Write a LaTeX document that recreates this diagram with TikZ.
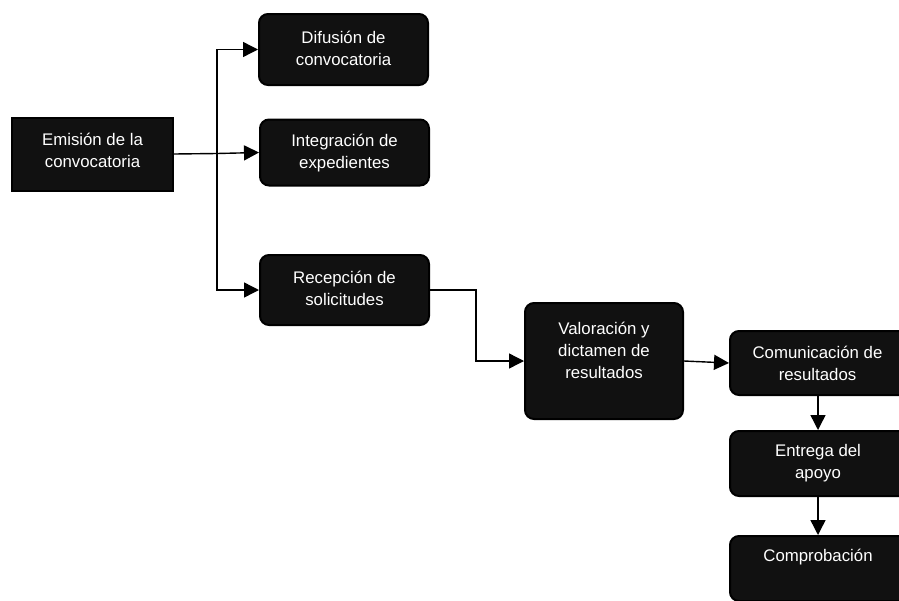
\documentclass[tikz,border=0pt]{standalone}
\usepackage{fontspec}
\setmainfont{Liberation Sans}
\usetikzlibrary{arrows.meta,calc}
\definecolor{boxfill}{HTML}{111111}
\tikzset{
  box/.style={draw=black, line width=2pt, fill=boxfill, inner sep=0pt},
  rbox/.style={box, rounded corners=9pt},
  txt/.style={text=white, align=center, font=\fontsize{16.8}{22}\selectfont, inner sep=0pt},
  arr/.style={draw=black, line width=1.4pt, -{Triangle[length=15pt,width=15pt]}},
  ln/.style={draw=black, line width=1.4pt}
}
\begin{document}
\begin{tikzpicture}[x=1pt,y=-1pt]
\useasboundingbox (0,0) rectangle (899,600);
\begin{scope}
\clip (0,0) rectangle (899,600);
\node[box, minimum width=161pt, minimum height=73pt] (emi) at (92.5,154) {};
\node[rbox, minimum width=169pt, minimum height=71pt] (dif) at (343.5,49.5) {};
\node[rbox, minimum width=169pt, minimum height=66pt] (int) at (344.5,152.5) {};
\node[rbox, minimum width=169pt, minimum height=70pt] (rec) at (344.5,290) {};
\node[rbox, minimum width=158pt, minimum height=116pt] (val) at (604,361) {};
\node[rbox, minimum width=200pt, minimum height=64pt] (com) at (830,363) {};
\node[rbox, minimum width=200pt, minimum height=65pt] (ent) at (830,463.5) {};
\node[rbox, minimum width=200pt, minimum height=65pt] (cpr) at (830,568.5) {};
\node[txt] (emiT) at (92.5,150) {Emisión de la\\convocatoria};
\node[txt] (difT) at (343.5,48.5) {Difusión de\\convocatoria};
\node[txt] (intT) at (344.5,153) {Integración de\\expedientes};
\node[txt] (recT) at (344.5,288.5) {Recepción de\\solicitudes};
\node[txt] (valT) at (604,350.5) {Valoración y\\dictamen de\\resultados};
\node[txt] (comT) at (817.5,363.5) {Comunicación de\\resultados};
\node[txt] (entT) at (818,463.5) {Entrega del\\apoyo};
\node[txt] (cprT) at (818,557.5) {Comprobación};
\end{scope}
\coordinate (j) at (217,153.5);
\draw[ln] (emi.east) -- (j);
\draw[arr] (j) |- (dif.west);
\draw[arr] (j) -- (int.west);
\draw[arr] (j) |- (rec.west);
\draw[arr] (rec.east) -- ++(46,0) |- (val.west);
\draw[arr] (val.east) -- (com.west);
\draw[arr] (com.south -| entT) -- (ent.north -| entT);
\draw[arr] (ent.south -| entT) -- (cpr.north -| entT);
\end{tikzpicture}
\end{document}
